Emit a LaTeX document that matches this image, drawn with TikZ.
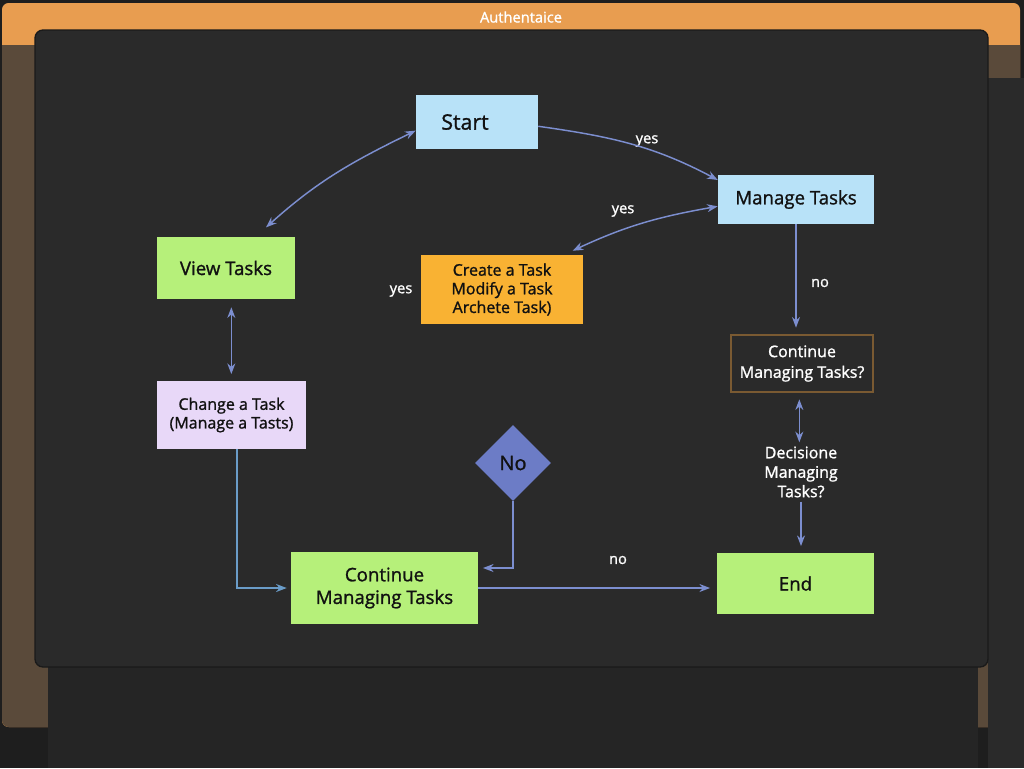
\documentclass[tikz,border=0pt]{standalone}
\usepackage{fontspec}
\setmainfont{Open Sans}
\newfontfamily\medfont{Open Sans}[FakeBold=1.2]
\usetikzlibrary{shapes.geometric,arrows.meta}
\definecolor{bgc}{HTML}{1E1E1E}
\definecolor{orangebar}{HTML}{E89D50}
\definecolor{brownc}{HTML}{5A4A3A}
\definecolor{stripc}{HTML}{2A2A2A}
\definecolor{botc}{HTML}{252525}
\definecolor{panelc}{HTML}{2A2A2A}
\definecolor{panelborder}{HTML}{1A1A1A}
\definecolor{lblue}{HTML}{B8E2F8}
\definecolor{lgreen}{HTML}{B6F07A}
\definecolor{lorange}{HTML}{F9B233}
\definecolor{lavender}{HTML}{E8D8F8}
\definecolor{diamc}{HTML}{6C7CC6}
\definecolor{edgec}{HTML}{7C8ECF}
\definecolor{edgeteal}{HTML}{6A9CC8}
\definecolor{contborder}{HTML}{7A5A32}
\definecolor{boxtext}{HTML}{111111}
\begin{document}
\begin{tikzpicture}[x=0.75pt,y=-0.75pt,
  box/.style={draw=none, inner sep=2pt, align=center, text=boxtext, font=\medfont\fontsize{14}{17}\selectfont},
  smallbox/.style={box, font=\medfont\fontsize{12}{14}\selectfont},
  lbl/.style={text=white, inner sep=1pt, font=\medfont\fontsize{11}{13}\selectfont},
  arr/.style={draw=edgec, line width=1.1pt, -{Stealth[length=8pt,width=6pt]}},
  darr/.style={draw=edgec, line width=1.1pt, {Stealth[length=8pt,width=6pt]}-{Stealth[length=8pt,width=6pt]}}]
% background layers
\useasboundingbox (0,0) rectangle (1024,768);
\fill[bgc] (0,0) rectangle (1024,768);
\fill[orangebar, rounded corners=5pt] (2,3) rectangle (1020,727);
\fill[brownc] (2,45) [rounded corners=5pt] -- (2,727) -- (1020,727) [sharp corners] -- (1020,45) -- cycle;
\fill[stripc] (988,78) rectangle (1024,768);
\fill[botc] (48,660) rectangle (978,768);
\filldraw[fill=panelc, draw=panelborder, line width=1pt, rounded corners=6pt] (35,30) rectangle (988,667);
\node[text=white, font=\medfont\fontsize{11}{13}\selectfont] (title) at (521,17) {Authentaice};
% nodes
\node[box, fill=lblue, minimum width=91.5pt, minimum height=40.5pt, font=\medfont\fontsize{16}{19}\selectfont] (start) at (477,122) {Start\hspace*{18pt}};
\node[box, fill=lblue, minimum width=117pt, minimum height=36.75pt] (manage) at (796,199.5) {Manage Tasks};
\node[box, fill=lgreen, minimum width=103.5pt, minimum height=46.5pt] (view) at (226,268) {View Tasks};
\node[smallbox, fill=lorange, minimum width=121.5pt, minimum height=51.75pt] (create) at (502,289.5) {Create a Task\\Modify a Task\\Archete Task)};
\node[smallbox, fill=lavender, minimum width=111.75pt, minimum height=51pt] (change) at (231.5,415) {Change a Task\\(Manage a Tasts)};
\node[diamond, fill=diamc, minimum width=57pt, minimum height=57pt, inner sep=0pt, text=boxtext, font=\medfont\fontsize{15}{18}\selectfont] (no) at (513,463) {No};
\node[box, fill=lgreen, minimum width=140.25pt, minimum height=54pt] (contm) at (384.5,588) {Continue\\Managing Tasks};
\node[box, fill=lgreen, minimum width=117.75pt, minimum height=45.75pt] (end) at (795.5,583.5) {End};
\node[smallbox, fill=panelc, draw=contborder, line width=1pt, text=white, minimum width=106.5pt, minimum height=42.75pt, font=\medfont\fontsize{12}{15.5}\selectfont] (ask) at (802,363.5) {Continue\\Managing Tasks?};
\node[text=white, align=center, inner sep=1pt, font=\medfont\fontsize{12}{14.6}\selectfont] (dec) at (801,472) {Decisione\\Managing\\Tasks?};
% edge labels
\node[lbl] (yes1) at (647,141) {yes};
\node[lbl] (yes2) at (623,211) {yes};
\node[lbl] (yes3) at (401,291) {yes};
\node[lbl] (no1) at (820,283) {no};
\node[lbl] (no2) at (618,560) {no};
% connectors
\draw[arr] (start.-4) to[out=-8,in=152] (manage.166);
\draw[darr] (start.188) to[out=206,in=42] ([xshift=30pt,yshift=7pt]view.north);
\draw[darr] ([xshift=-8pt,yshift=3pt]create.north east) to[out=25,in=190] (manage.185);
\draw[arr, shorten >=5pt] (manage.south) -- (manage.south |- ask.north);
\draw[darr, shorten <=5pt, shorten >=2pt] ([xshift=-2pt]ask.south) -- ([xshift=-2pt]ask.south |- dec.north);
\draw[arr, shorten <=2pt, shorten >=5pt] (dec.south) -- (dec.south |- end.north);
\draw[darr, shorten <=6pt, shorten >=5pt] ([xshift=4pt]view.south) -- ([xshift=4pt]view.south |- change.north);
\draw[arr, draw=edgeteal, shorten >=3pt] ([xshift=4pt]change.south) |- (contm.west);
\draw[arr, shorten >=3.5pt] (no.south) |- ([yshift=15pt]contm.east);
\draw[arr, shorten >=5pt] (contm.east) -- (contm.east -| end.west);
\end{tikzpicture}
\end{document}
